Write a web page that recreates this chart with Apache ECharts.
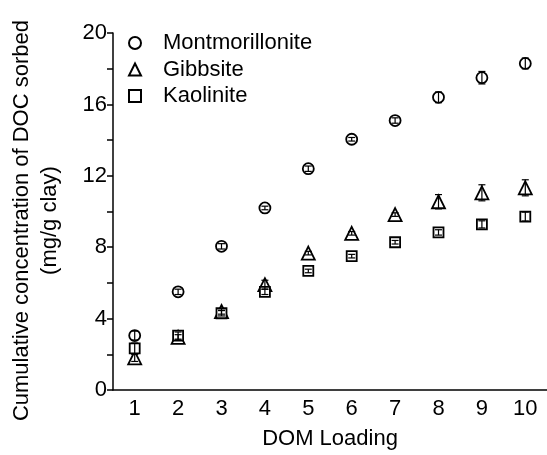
<!DOCTYPE html>
<html>
<head>
<meta charset="utf-8">
<script src="https://cdn.jsdelivr.net/npm/echarts@6/dist/echarts.min.js"></script>
<style>
  html, body { margin: 0; padding: 0; background: #fff; }
  #main { width: 547px; height: 455px; }
</style>
</head>
<body>
<div id="main"></div>
<script>
var loading = ['1', '2', '3', '4', '5', '6', '7', '8', '9', '10'];
var yTicks = [0, 4, 8, 12, 16, 20];

var montMean = [3.05, 5.5, 8.05, 10.2, 12.4, 14.05, 15.1, 16.4, 17.5, 18.3];
var montErr  = [0.25, 0.15, 0.15, 0.1, 0.15, 0.1, 0.15, 0.3, 0.35, 0.3];
var gibbMean = [1.8, 2.95, 4.4, 5.9, 7.67, 8.78, 9.83, 10.55, 11.05, 11.33];
var gibbErr  = [0.2, 0.15, 0.15, 0.25, 0.1, 0.1, 0.1, 0.4, 0.45, 0.45];
var kaolMean = [2.33, 3.05, 4.3, 5.5, 6.67, 7.5, 8.28, 8.83, 9.28, 9.72];
var kaolErr  = [0.3, 0.2, 0.15, 0.15, 0.1, 0.1, 0.1, 0.15, 0.2, 0.25];

var font = 'Liberation Sans, Arial, sans-serif';

function errData(mean, err) {
    return mean.map(function (m, i) { return [i, m - err[i], m + err[i]]; });
}

function renderErr(params, api) {
    var lo = api.coord([api.value(0), api.value(1)]);
    var hi = api.coord([api.value(0), api.value(2)]);
    var w = 3.5;
    var st = { stroke: '#000', lineWidth: 1.2, fill: null };
    return {
        type: 'group',
        children: [
            { type: 'line', shape: { x1: lo[0], y1: lo[1], x2: hi[0], y2: hi[1] }, style: st },
            { type: 'line', shape: { x1: lo[0] - w, y1: lo[1], x2: lo[0] + w, y2: lo[1] }, style: st },
            { type: 'line', shape: { x1: hi[0] - w, y1: hi[1], x2: hi[0] + w, y2: hi[1] }, style: st }
        ]
    };
}

function scatter(name, symbol, size, data) {
    return {
        name: name,
        type: 'scatter',
        symbol: symbol,
        symbolSize: size,
        itemStyle: { color: '#fff', borderColor: '#000', borderWidth: 1.8, opacity: 1 },
        data: data,
        z: 2
    };
}

function errSeries(mean, err) {
    return {
        type: 'custom',
        renderItem: renderErr,
        data: errData(mean, err),
        silent: true,
        z: 3
    };
}

var myChart = echarts.init(document.getElementById('main'));
var option = {
    animation: false,
    backgroundColor: '#fff',
    textStyle: { fontFamily: font },
    grid: { left: 110, right: -7, top: 32, bottom: 63 },
    legend: {
        orient: 'vertical',
        left: 123,
        top: 27,
        itemWidth: 12,
        itemHeight: 12,
        itemGap: 4.5,
        data: ['Montmorillonite', 'Gibbsite', 'Kaolinite'],
        textStyle: { fontFamily: font, fontSize: 22, lineHeight: 22, color: '#000', padding: [0, 0, 0, 17] }
    },
    xAxis: {
        type: 'category',
        data: loading,
        boundaryGap: true,
        name: 'DOM Loading',
        nameLocation: 'middle',
        nameGap: 38,
        nameTextStyle: { fontFamily: font, fontSize: 22, color: '#000' },
        axisLine: { lineStyle: { color: '#000', width: 1.5 } },
        axisTick: { alignWithLabel: true, length: 6, lineStyle: { color: '#000', width: 1.5 } },
        axisLabel: { fontFamily: font, fontSize: 22, color: '#000', margin: 8 },
        splitLine: { show: false }
    },
    yAxis: {
        type: 'value',
        min: yTicks[0],
        max: yTicks[yTicks.length - 1],
        interval: 4,
        name: 'Cumulative concentration of DOC sorbed\n(mg/g clay)',
        nameLocation: 'middle',
        nameRotate: 90,
        nameGap: 49,
        nameTextStyle: { fontFamily: font, fontSize: 22, color: '#000', lineHeight: 28, padding: [0, 18, 0, 0] },
        axisLine: { show: true, lineStyle: { color: '#000', width: 1.5 } },
        axisTick: { show: true, length: 6, lineStyle: { color: '#000', width: 1.5 } },
        minorTick: { show: true, splitNumber: 2, length: 6, lineStyle: { color: '#000', width: 1.5 } },
        axisLabel: { fontFamily: font, fontSize: 22, color: '#000', margin: 6 },
        splitLine: { show: false }
    },
    series: [
        scatter('Montmorillonite', 'circle', 11, montMean),
        scatter('Gibbsite', 'triangle', 13, gibbMean),
        scatter('Kaolinite', 'rect', 10, kaolMean),
        errSeries(montMean, montErr),
        errSeries(gibbMean, gibbErr),
        errSeries(kaolMean, kaolErr)
    ]
};
myChart.setOption(option);

window.addEventListener('resize', function () {
    myChart.resize();
});
</script>
</body>
</html>
